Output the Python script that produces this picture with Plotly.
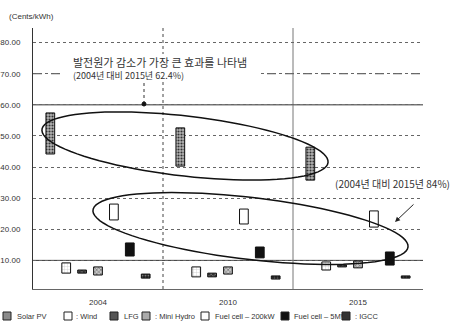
import numpy as np
import plotly.graph_objects as go

# ---------------- data ----------------
categories = ["2004", "2010", "2015"]
series_names = ["Solar PV", ": Wind", "LFG", ": Mini Hydro",
                "Fuel cell – 200kW", "Fuel cell – 5MW", ": IGCC"]

solar_low = [44.2, 40.3, 35.8]
solar_high = [57.4, 52.6, 46.4]
wind_low = [5.9, 4.7, 6.9]
wind_high = [9.2, 7.9, 9.5]
lfg_low = [5.9, 4.7, 7.9]
lfg_high = [6.9, 5.9, 8.5]
hydro_low = [5.3, 5.6, 7.6]
hydro_high = [7.9, 7.9, 9.8]
fc200_low = [23.0, 21.7, 20.7]
fc200_high = [28.1, 26.5, 25.9]
fc5_low = [11.4, 10.8, 8.5]
fc5_high = [15.6, 14.3, 12.7]
igcc_low = [4.3, 4.0, 4.3]
igcc_high = [5.6, 5.0, 5.0]

y_tick_values = [10, 20, 30, 40, 50, 60, 70, 80]

lows = [solar_low, wind_low, lfg_low, hydro_low, fc200_low, fc5_low, igcc_low]
highs = [solar_high, wind_high, lfg_high, hydro_high, fc200_high, fc5_high, igcc_high]

# ---------------- styles ----------------
styles = [
    dict(color="#b4b4b4", pattern=dict(shape=".", fgcolor="#333", bgcolor="#b4b4b4", size=3, solidity=0.4)),
    dict(color="white", pattern=dict(shape="+", fgcolor="#bbb", bgcolor="white", size=3, solidity=0.2)),
    dict(color="#333", pattern=dict(shape="x", fgcolor="#999", bgcolor="#333", size=3, solidity=0.3)),
    dict(color="#c8c8c8", pattern=dict(shape="x", fgcolor="#555", bgcolor="#c8c8c8", size=3, solidity=0.3)),
    dict(color="white"),
    dict(color="#111"),
    dict(color="#222", pattern=dict(shape=".", fgcolor="#777", bgcolor="#222", size=3, solidity=0.3)),
]
legend_icon_colors = ["#8a8a8a", "white", "#555", "#aaa", "white", "#111", "#333"]

W, H = 454, 326
L, R, T, B = 33, 31, 28, 37
PW, PH = W - L - R, H - T - B


def px(x):
    return (x - L) / PW


def py(y):
    return (H - B - y) / PH


def ellipse_path(cx, cy, a, b, deg, n=90):
    t = np.linspace(0, 2 * np.pi, n)
    th = np.radians(deg)
    xs = cx + a * np.cos(t) * np.cos(th) - b * np.sin(t) * np.sin(th)
    ys = cy + a * np.cos(t) * np.sin(th) + b * np.sin(t) * np.cos(th)
    pts = [f"{px(x):.4f},{py(y):.4f}" for x, y in zip(xs, ys)]
    return "M" + " L".join(pts) + " Z"


fig = go.Figure()
for name, lo, hi, st in zip(series_names, lows, highs, styles):
    marker = dict(color=st["color"], line=dict(color="#111", width=1))
    if "pattern" in st:
        marker["pattern"] = st["pattern"]
    fig.add_trace(go.Bar(
        x=categories,
        y=[h - l for l, h in zip(lo, hi)],
        base=lo,
        name=name,
        marker=marker,
        showlegend=False,
        hoverinfo="skip",
    ))

font_lat = "Liberation Sans, Arial, sans-serif"
font_kr = "Noto Sans CJK KR, sans-serif"

shapes = [
    # emphasised gridlines
    dict(type="line", xref="paper", yref="y", x0=0, x1=1, y0=60, y1=60,
         line=dict(color="#333", width=1), layer="below"),
    dict(type="line", xref="paper", yref="y", x0=0, x1=1, y0=10, y1=10,
         line=dict(color="#333", width=1), layer="below"),
    dict(type="line", xref="paper", yref="y", x0=0, x1=1, y0=70, y1=70,
         line=dict(color="#444", width=1, dash="dash"), layer="below"),
    # category separators
    dict(type="line", xref="x", yref="paper", x0=0.5, x1=0.5, y0=0, y1=1,
         line=dict(color="#444", width=1, dash="dot"), layer="below"),
    dict(type="line", xref="x", yref="paper", x0=1.5, x1=1.5, y0=0, y1=1,
         line=dict(color="#777", width=1), layer="below"),
    # white box behind the top note
    dict(type="rect", xref="paper", yref="paper", x0=px(63), x1=px(258), y0=py(82), y1=py(54),
         fillcolor="white", line=dict(width=0), layer="above"),
    # ellipses
    dict(type="path", xref="paper", yref="paper", path=ellipse_path(185, 146, 144, 30, 6.6),
         line=dict(color="#111", width=1.5)),
    dict(type="path", xref="paper", yref="paper", path=ellipse_path(250.5, 228.5, 158.6, 31, 6.7),
         line=dict(color="#111", width=1.5)),
    # leader line + dot
    dict(type="line", xref="paper", yref="paper", x0=px(144), x1=px(144), y0=py(83), y1=py(104),
         line=dict(color="#333", width=1, dash="dot")),
    dict(type="circle", xref="paper", yref="paper", x0=px(142), x1=px(146), y0=py(102), y1=py(106),
         fillcolor="#111", line=dict(color="#111", width=1)),
]

annotations = [
    dict(text="(Cents/kWh)", xref="paper", yref="paper", x=px(7), y=py(16),
         xanchor="left", yanchor="middle", showarrow=False,
         font=dict(family=font_lat, size=8, color="#333")),
    dict(text="발전원가 감소가 가장 큰 효과를 나타냄",
         xref="paper", yref="paper", x=px(71), y=py(62),
         xanchor="left", yanchor="middle", showarrow=False,
         font=dict(family=font_kr, size=11, color="#333")),
    dict(text="(2004년 대비 2015년 62.4%)",
         xref="paper", yref="paper", x=px(71), y=py(75),
         xanchor="left", yanchor="middle", showarrow=False,
         font=dict(family=font_kr, size=9, color="#333")),
    dict(text="(2004년 대비 2015년 84%)", xref="paper", yref="paper", x=px(333), y=py(183),
         xanchor="left", yanchor="middle", showarrow=False,
         font=dict(family=font_kr, size=10, color="#333")),
    dict(text="", xref="paper", yref="paper", x=px(395), y=py(222),
         axref="pixel", ayref="pixel", ax=20, ay=-19, showarrow=True,
         arrowhead=2, arrowsize=1, arrowwidth=1, arrowcolor="#222"),
]

# manual legend
legend_icon_x = [3, 64, 110, 142, 201, 281, 342]
legend_text_x = [15, 74, 122, 153, 213, 292, 353]
for name, ix, tx, col in zip(series_names, legend_icon_x, legend_text_x, legend_icon_colors):
    shapes.append(dict(type="rect", xref="paper", yref="paper",
                       x0=px(ix), x1=px(ix + 8), y0=py(320), y1=py(312),
                       fillcolor=col, line=dict(color="#222", width=1)))
    annotations.append(dict(text=name, xref="paper", yref="paper", x=px(tx), y=py(316),
                            xanchor="left", yanchor="middle", showarrow=False,
                            font=dict(family=font_lat, size=7.5, color="#333")))

fig.update_layout(
    template="none",
    width=W, height=H,
    margin=dict(l=L, r=R, t=T, b=B, pad=0, autoexpand=False),
    paper_bgcolor="white", plot_bgcolor="white",
    barmode="group", bargap=0.144, bargroupgap=0.45,
    showlegend=False, hovermode=False,
    shapes=shapes, annotations=annotations,
    font=dict(family=font_lat, size=8, color="#333"),
)
fig.update_xaxes(
    type="category", showgrid=False, showline=True, linecolor="#666", linewidth=1,
    automargin=False, zeroline=False,
    ticks="", ticklabelstandoff=5, tickfont=dict(size=8, family=font_lat, color="#333"),
    range=[-0.5, 2.5],
)
fig.update_yaxes(
    range=[0.8, 84.7], tickvals=y_tick_values, ticktext=[f"{v:.2f}" for v in y_tick_values],
    showgrid=True, gridcolor="#666", griddash="dot", gridwidth=1, automargin=False,
    showline=True, linecolor="#333", linewidth=1, zeroline=False,
    ticks="", ticklabelstandoff=10, tickfont=dict(size=8, family=font_lat, color="#333"),
)

fig.write_html("out.html", config={"displayModeBar": False},
               post_script="document.body.style.margin='0';")
